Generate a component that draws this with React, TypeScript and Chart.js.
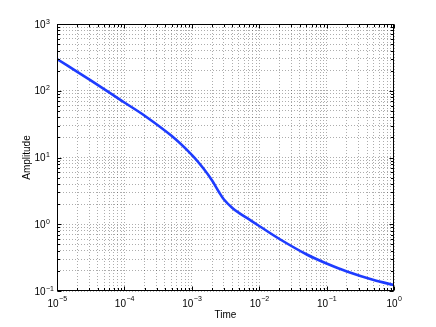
import { useEffect, useRef } from "react";
import { Chart, registerables } from "chart.js";

Chart.register(...registerables);

// Time samples (s) and amplitude
const times = [
  1e-5, 2e-5, 5e-5,
  1e-4, 2e-4, 5e-4,
  1e-3, 1.5e-3, 2e-3, 2.5e-3, 3e-3, 4e-3, 5e-3, 7e-3,
  1e-2, 2e-2, 5e-2,
  0.1, 0.2, 0.5, 1,
];
const amplitude = [
  299, 192, 106,
  66.7, 42.2, 21.1,
  10.96, 6.78, 4.52, 3.1, 2.35, 1.75, 1.48, 1.19,
  0.942, 0.601, 0.355,
  0.258, 0.196, 0.146, 0.123,
];
// Decade exponents used as tick labels
const xTickExponents = [-5, -4, -3, -2, -1, 0];
const yTickExponents = [-1, 0, 1, 2, 3];
const xTitle = "Time";
const yTitle = "Amplitude";

function decadeTicks(exps: number[]) {
  const ticks: { value: number; major: boolean }[] = [];
  for (let i = 0; i < exps.length; i++) {
    const e = exps[i];
    if (i === exps.length - 1) {
      ticks.push({ value: Math.pow(10, e), major: true });
    } else {
      for (let k = 1; k <= 9; k++) {
        ticks.push({ value: k * Math.pow(10, e), major: k === 1 });
      }
    }
  }
  return ticks;
}

const FONT = '"Liberation Sans", Arial, Helvetica, sans-serif';

const framePlugin = {
  id: "matlabFrame",
  afterDraw(chart: any) {
    const { ctx, chartArea: a, scales } = chart;
    const xs = scales.x;
    const ys = scales.y;
    const L = Math.round(a.left) + 0.5;
    const R = Math.round(a.right) - 0.5;
    const T = Math.round(a.top) + 0.5;
    const B = Math.round(a.bottom) - 0.5;
    ctx.save();
    ctx.strokeStyle = "#000";
    ctx.lineWidth = 1;
    // tick marks inside on all four sides
    ctx.beginPath();
    for (const t of xs.ticks) {
      const x = Math.round(xs.getPixelForValue(t.value)) + 0.5;
      const len = t.major ? 4 : 2.5;
      ctx.moveTo(x, B);
      ctx.lineTo(x, B - len);
      ctx.moveTo(x, T);
      ctx.lineTo(x, T + len);
    }
    for (const t of ys.ticks) {
      const y = Math.round(ys.getPixelForValue(t.value)) + 0.5;
      const len = t.major ? 4 : 2.5;
      ctx.moveTo(L, y);
      ctx.lineTo(L + len, y);
      ctx.moveTo(R, y);
      ctx.lineTo(R - len, y);
    }
    ctx.stroke();
    ctx.strokeRect(L, T, R - L, B - T);

    ctx.fillStyle = "#000";
    const big = "10px " + FONT;
    const small = "7px " + FONT;
    // x tick labels
    for (const e of xTickExponents) {
      const x = xs.getPixelForValue(Math.pow(10, e));
      const ex = e < 0 ? "\u2212" + Math.abs(e) : String(e);
      ctx.font = big;
      const w1 = ctx.measureText("10").width;
      ctx.font = small;
      const w2 = ctx.measureText(ex).width;
      const x0 = x - (w1 + w2) / 2;
      ctx.textAlign = "left";
      ctx.textBaseline = "alphabetic";
      ctx.font = big;
      ctx.fillText("10", x0, a.bottom + 16);
      ctx.font = small;
      ctx.fillText(ex, x0 + w1 + 0.5, a.bottom + 10);
    }
    // y tick labels
    for (const e of yTickExponents) {
      const y = ys.getPixelForValue(Math.pow(10, e));
      const ex = e < 0 ? "\u2212" + Math.abs(e) : String(e);
      ctx.textBaseline = "alphabetic";
      ctx.font = big;
      ctx.textAlign = "right";
      ctx.fillText("10", a.left - 11.5, y + 3.7);
      ctx.font = small;
      ctx.textAlign = "left";
      ctx.fillText(ex, a.left - 11, y - 0.5);
    }
    // axis titles
    ctx.font = "10px " + FONT;
    ctx.textAlign = "center";
    ctx.textBaseline = "alphabetic";
    ctx.fillText(xTitle, (a.left + a.right) / 2, a.bottom + 27);
    ctx.save();
    ctx.translate(a.left - 27.5, (a.top + a.bottom) / 2);
    ctx.rotate(-Math.PI / 2);
    ctx.fillText(yTitle, 0, 0);
    ctx.restore();
    ctx.restore();
  },
};

export default function App() {
  const ref = useRef<HTMLCanvasElement>(null);
  useEffect(() => {
    if (!ref.current) return;
    const gridColor = "rgba(0,0,0,0.32)";
    const chart = new Chart(ref.current, {
      type: "line",
      data: {
        datasets: [
          {
            data: times.map((t, i) => ({ x: t, y: amplitude[i] })),
            borderColor: "rgb(30,60,255)",
            borderWidth: 2.6,
            pointRadius: 0,
            fill: false,
            tension: 0.35,
          },
        ],
      },
      options: {
        animation: false,
        responsive: false,
        devicePixelRatio: 1,
        layout: { padding: { top: 24, right: 42, left: 0, bottom: 0 } },
        plugins: { legend: { display: false }, tooltip: { enabled: false } },
        events: [],
        scales: {
          x: {
            type: "logarithmic",
            min: 1e-5,
            max: 1,
            afterBuildTicks: (s: any) => {
              s.ticks = decadeTicks(xTickExponents);
            },
            afterFit: (s: any) => {
              s.height = 36;
            },
            ticks: { display: false },
            grid: { color: gridColor, lineWidth: 1, drawTicks: false },
            border: { display: false, dash: [1, 2] },
          },
          y: {
            type: "logarithmic",
            min: 0.1,
            max: 1000,
            afterBuildTicks: (s: any) => {
              s.ticks = decadeTicks(yTickExponents);
            },
            afterFit: (s: any) => {
              s.width = 57;
            },
            ticks: { display: false },
            grid: { color: gridColor, lineWidth: 1, drawTicks: false },
            border: { display: false, dash: [1, 2] },
          },
        },
      } as any,
      plugins: [framePlugin],
    });
    return () => chart.destroy();
  }, []);
  return (
    <div
      style={{
        position: "fixed",
        left: 0,
        top: 0,
        width: 436,
        height: 327,
        background: "#fff",
      }}
    >
      <canvas ref={ref} width={436} height={327} style={{ width: 436, height: 327 }} />
    </div>
  );
}
